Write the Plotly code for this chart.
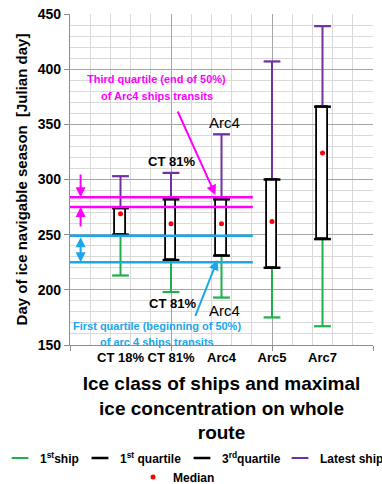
import plotly.graph_objects as go

# ---- data ----
categories = ["CT 18%", "CT 81%", "Arc4", "Arc5", "Arc7"]
cat_pos = [1, 2, 3, 4, 5]
first_ship = [213, 198, 193, 175, 167]
quartile_1 = [250, 227, 231, 220, 246]
median = [269, 260, 260, 262, 324]
quartile_3 = [274, 282, 282, 300, 366]
latest_ship = [303, 306, 341, 407, 439]
y_ticks = [150, 200, 250, 300, 350, 400, 450]

# reference lines (Julian day)
magenta_lines = [284, 275]
blue_lines = [249, 225]

GREEN = "#1DB04B"
PURPLE = "#7030A0"
MAGENTA = "#FF00FF"
BLUE = "#1AA7EC"
FONT = "Liberation Sans"

fig = go.Figure()

# boxes
fig.add_trace(go.Bar(
    x=cat_pos, y=[q3 - q1 for q1, q3 in zip(quartile_1, quartile_3)], base=quartile_1,
    width=0.21, marker=dict(color="white", line=dict(color="black", width=1.8)),
    showlegend=False, hoverinfo="skip"))

# first ship whisker (cap marker at first ship, line up to q1)
fig.add_trace(go.Scatter(
    x=cat_pos, y=first_ship, mode="markers", name="1<sup>st</sup>ship",
    marker=dict(symbol="line-ew-open", size=12, color=GREEN, line=dict(color=GREEN, width=2.2)),
    error_y=dict(type="data", symmetric=False,
                 array=[q - f for q, f in zip(quartile_1, first_ship)],
                 arrayminus=[0] * len(first_ship), color=GREEN, thickness=2, width=0),
    legend="legend"))

# latest ship whisker
fig.add_trace(go.Scatter(
    x=cat_pos, y=latest_ship, mode="markers", name="Latest ship",
    marker=dict(symbol="line-ew-open", size=12, color=PURPLE, line=dict(color=PURPLE, width=2.2)),
    error_y=dict(type="data", symmetric=False, array=[0] * len(latest_ship),
                 arrayminus=[l - q for l, q in zip(latest_ship, quartile_3)],
                 color=PURPLE, thickness=2, width=0),
    legend="legend4"))

# quartile edges
fig.add_trace(go.Scatter(
    x=cat_pos, y=quartile_1, mode="markers", name="1<sup>st</sup> quartile",
    marker=dict(symbol="line-ew-open", size=12, color="black", line=dict(color="black", width=2.5)),
    legend="legend2"))
fig.add_trace(go.Scatter(
    x=cat_pos, y=quartile_3, mode="markers", name="3<sup>rd</sup>quartile",
    marker=dict(symbol="line-ew-open", size=12, color="black", line=dict(color="black", width=2.5)),
    legend="legend3"))

# median
fig.add_trace(go.Scatter(
    x=cat_pos, y=median, mode="markers", name="Median",
    marker=dict(symbol="circle", size=5, color="#FF0000"),
    legend="legend5"))

# dummy trace for the grid axis
fig.add_trace(go.Scatter(x=[None], y=[None], xaxis="x2", showlegend=False, hoverinfo="skip"))

# horizontal reference lines
for v in magenta_lines:
    fig.add_shape(type="line", xref="x", yref="y", x0=0, x1=3.62, y0=v, y1=v,
                  line=dict(color=MAGENTA, width=2.5))
for v in blue_lines:
    fig.add_shape(type="line", xref="x", yref="y", x0=0, x1=3.62, y0=v, y1=v,
                  line=dict(color=BLUE, width=2.5))

arrow_common = dict(xref="x", yref="y", axref="x", ayref="y", text="", showarrow=True,
                    arrowhead=2, arrowsize=1, arrowwidth=2)
# magenta arrows
fig.add_annotation(x=0.21, y=magenta_lines[0], ax=0.21, ay=306, arrowcolor=MAGENTA, **arrow_common)
fig.add_annotation(x=0.21, y=magenta_lines[1], ax=0.21, ay=256, arrowcolor=MAGENTA, **arrow_common)
fig.add_annotation(x=2.88, y=286, ax=2.12, ay=363, arrowcolor=MAGENTA, **arrow_common)
# blue arrows
fig.add_annotation(x=0.21, y=blue_lines[1], ax=0.21, ay=blue_lines[0], arrowcolor=BLUE,
                   arrowside="end+start", **arrow_common)
fig.add_annotation(x=2.92, y=227, ax=2.47, ay=175, arrowcolor=BLUE, **arrow_common)

# text annotations
txt_font_m = dict(family=FONT, size=11, color=MAGENTA, weight="bold")
txt_font_b = dict(family=FONT, size=11, color=BLUE, weight="bold")
fig.add_annotation(x=1.72, y=391, text="Third quartile (end of 50%)", showarrow=False, font=txt_font_m)
fig.add_annotation(x=1.72, y=376, text="of Arc4 ships transits", showarrow=False, font=txt_font_m)
fig.add_annotation(x=1.72, y=167, text="First quartile (beginning of 50%)", showarrow=False, font=txt_font_b)
fig.add_annotation(x=1.72, y=153, text="of arc 4 ships transits", showarrow=False, font=txt_font_b)
fig.add_annotation(x=2.0, y=316, text="CT 81%", showarrow=False,
                   font=dict(family=FONT, size=13, color="black", weight="bold"))
fig.add_annotation(x=3.05, y=352, text="Arc4", showarrow=False,
                   font=dict(family=FONT, size=15, color="black"))
fig.add_annotation(x=2.02, y=188, text="CT 81%", showarrow=False,
                   font=dict(family=FONT, size=13, color="black", weight="bold"))
fig.add_annotation(x=3.05, y=181, text="Arc4", showarrow=False,
                   font=dict(family=FONT, size=15, color="black"))

leg_font = dict(family=FONT, size=12, color="black", weight="bold")
def leg(xpx, ypx):
    return dict(xref="container", yref="container", x=xpx / 382, y=1 - ypx / 484,
                xanchor="left", yanchor="middle", orientation="h", font=leg_font,
                bgcolor="rgba(0,0,0,0)", borderwidth=0)

fig.update_layout(
    width=382, height=484,
    margin=dict(l=70, r=9, t=14, b=139, autoexpand=False),
    paper_bgcolor="white", plot_bgcolor="white",
    font=dict(family=FONT, color="black"),
    bargap=0,
    xaxis=dict(range=[0, 6], tickmode="array", tickvals=cat_pos, ticktext=categories,
               showgrid=False, zeroline=False, ticks="", showline=True, automargin=False,
               linecolor="#8C8C8C", linewidth=1.2,
               tickfont=dict(family=FONT, size=13, color="black", weight="bold"),
               title=dict(text="Ice class of ships and maximal<br>ice concentration on whole<br>route",
                          font=dict(family=FONT, size=19, color="black", weight="bold"),
                          standoff=16)),
    xaxis2=dict(range=[0, 6], overlaying="x", anchor="y", side="bottom", automargin=False,
                tickmode="linear", tick0=0, dtick=2, showticklabels=False,
                ticks="outside", ticklen=5, tickcolor="#8C8C8C",
                showgrid=True, gridcolor="#A6A6A6", gridwidth=1, zeroline=False,
                minor=dict(tick0=0, dtick=0.4, showgrid=True, gridcolor="#D9D9D9", gridwidth=1, ticks="")),
    yaxis=dict(range=[150, 450], tickmode="array", tickvals=y_ticks, automargin=False,
               showgrid=True, gridcolor="#A6A6A6", gridwidth=1, zeroline=False,
               minor=dict(dtick=10, tick0=150, showgrid=True, gridcolor="#D9D9D9", gridwidth=1),
               ticks="outside", ticklen=5, tickcolor="#8C8C8C",
               showline=True, linecolor="#8C8C8C", linewidth=1.2,
               tickfont=dict(family=FONT, size=14, color="black", weight="bold"),
               title=dict(text="Day of ice navigable season  [Julian day]",
                          font=dict(family=FONT, size=15, color="black", weight="bold"),
                          standoff=6)),
    legend=leg(-3, 458),
    legend2=leg(80, 458),
    legend3=leg(182, 458),
    legend4=leg(280, 458),
    legend5=leg(133, 477),
)

fig.write_html("out.html")
